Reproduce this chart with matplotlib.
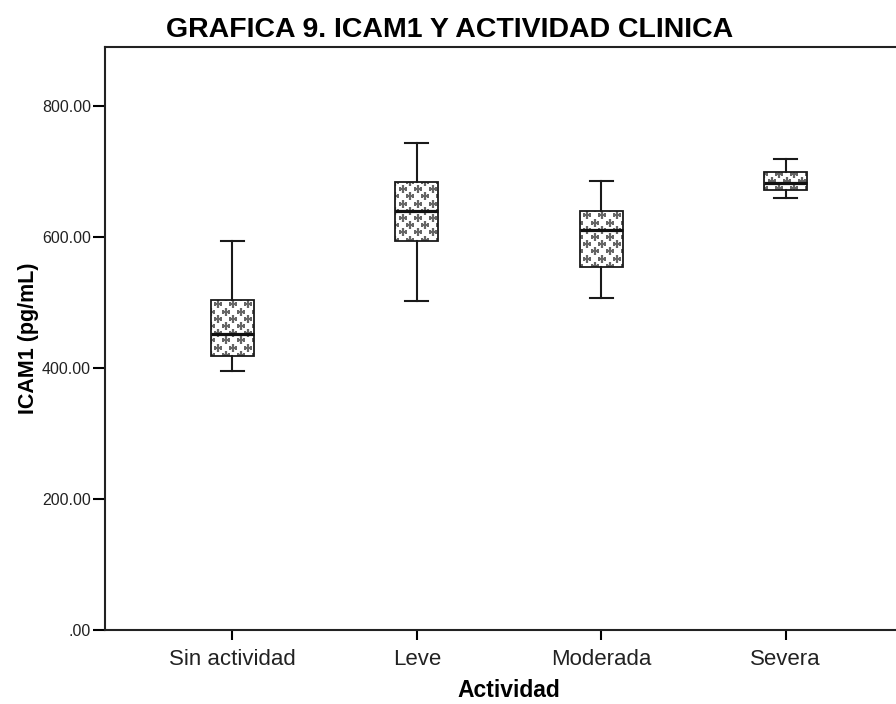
import numpy as np
import matplotlib
matplotlib.use("Agg")
import matplotlib.pyplot as plt

categories = ["Sin actividad", "Leve", "Moderada", "Severa"]
whisker_low = [395, 502, 507, 660]
q1 = [418, 594, 554, 672]
median = [452, 640, 611, 682]
q3 = [504, 684, 640, 699]
whisker_high = [594, 743, 685, 719]
y_ticks = [0, 200, 400, 600, 800]
y_tick_labels = [".00", "200.00", "400.00", "600.00", "800.00"]

narrow = ["Liberation Sans Narrow", "Liberation Sans", "DejaVu Sans"]
plt.rcParams["font.family"] = ["Liberation Sans", "DejaVu Sans"]

fig = plt.figure(figsize=(8.96, 7.04), dpi=100)
ax = fig.add_axes([105 / 896, 74 / 704, 808 / 896, 583 / 704])
ax.set_xlim(-0.69, 3.69)
ax.set_ylim(0, 890)

stats = []
for i in range(len(categories)):
    stats.append({
        "whislo": whisker_low[i], "q1": q1[i], "med": median[i],
        "q3": q3[i], "whishi": whisker_high[i], "fliers": [],
    })

bp = ax.bxp(stats, positions=range(len(categories)), widths=0.235,
            patch_artist=True, showfliers=False,
            boxprops=dict(facecolor="none", edgecolor="#1a1a1a", linewidth=1.3, zorder=3),
            whiskerprops=dict(color="#1a1a1a", linewidth=1.5),
            capprops=dict(color="#1a1a1a", linewidth=1.5),
            medianprops=dict(color="#111111", linewidth=2.3, zorder=4),
            capwidths=0.125)

# cross pattern inside the boxes
for i, box in enumerate(bp["boxes"]):
    xs_row = np.arange(i - 0.2, i + 0.21, 0.082)
    ys = np.arange(q1[i] - 20, q3[i] + 20, 11.0)
    px, py = [], []
    for k, y in enumerate(ys):
        off = 0.041 if k % 2 else 0.0
        px.extend(xs_row + off)
        py.extend([y] * len(xs_row))
    sc = ax.scatter(px, py, marker="+", s=26, color="#666666", linewidths=1.6, zorder=2)
    sc.set_clip_path(box)

ax.set_xticks(range(len(categories)))
ax.set_xticklabels(categories, fontsize=16, color="#222222")
ax.set_yticks(y_ticks)
ax.set_yticklabels(y_tick_labels, fontsize=11.5, family=narrow, color="#222222")
ax.tick_params(axis="y", length=9, width=1.5, pad=1)
ax.tick_params(axis="x", length=7, width=1.5, pad=7)
for s in ax.spines.values():
    s.set_linewidth(1.5)
    s.set_color("#222222")

ax.set_ylabel("ICAM1 (pg/mL)", fontsize=15.5, fontweight="bold", labelpad=2)
ax.set_xlabel("Actividad", fontsize=16.5, fontweight="bold", labelpad=6)
fig.text(0.502, 0.957, "GRAFICA 9. ICAM1 Y ACTIVIDAD CLINICA", ha="center", va="center",
         fontsize=20.5, fontweight="bold", family=narrow)

fig.savefig("out.png", dpi=100)
